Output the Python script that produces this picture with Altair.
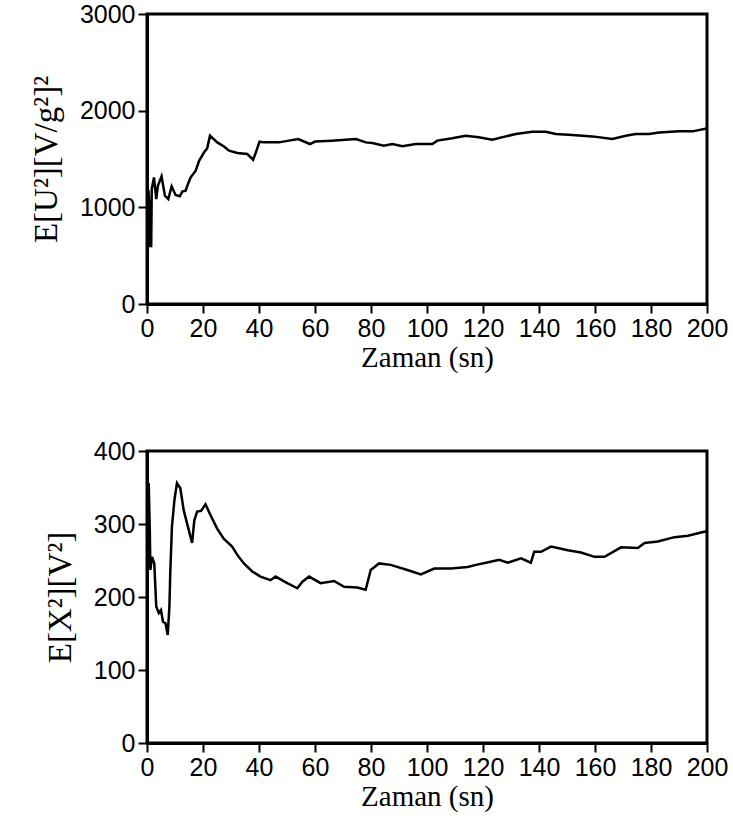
import altair as alt
import pandas as pd

# Top chart: E[U^2] [V/g^2]^2 vs time (s)
t_top = [0.2, 0.5, 0.9, 1.2, 1.5, 1.7, 2.5, 3.3, 3.9, 5.2, 6.4, 7.6, 8.8, 10.2, 11.7,
         12.6, 13.8, 14.4, 15.6, 17.4, 18.6, 20.4, 21.5, 22.5, 25.1, 27.5, 29.3, 32.3,
         35.8, 37.9, 38.8, 40.2, 41.7, 47.1, 50.7, 54.0, 58.2, 60.0, 66.0, 74.6, 78.2,
         80.5, 84.6, 87.6, 91.2, 96.0, 101.9, 103.7, 109.0, 113.8, 118.5, 123.3, 128.1,
         131.7, 137.6, 142.4, 146.0, 151.9, 159.0, 166.2, 171.0, 174.5, 179.3, 182.9,
         190.0, 194.8, 199.0, 200.0]
v_top = [300, 1180, 1000, 600, 600, 1190, 1310, 1086, 1224, 1320, 1120, 1086, 1217, 1127,
         1114, 1162, 1172, 1224, 1310, 1379, 1482, 1569, 1610, 1741, 1672, 1630, 1586,
         1562, 1551, 1493, 1562, 1679, 1672, 1672, 1690, 1706, 1655, 1680, 1690, 1706,
         1672, 1665, 1638, 1655, 1631, 1655, 1655, 1690, 1714, 1741, 1724, 1699, 1734,
         1758, 1782, 1782, 1758, 1748, 1734, 1706, 1741, 1758, 1758, 1775, 1786, 1786,
         1810, 1815]

# Bottom chart: E[X^2] [V^2] vs time (s)
t_bot = [0.2, 0.6, 1.0, 1.2, 1.8, 2.6, 3.3, 4.2, 5.0, 5.7, 6.6, 7.4, 8.0, 8.3, 8.9, 9.8,
         10.7, 11.9, 13.1, 14.9, 16.1, 16.9, 17.9, 19.3, 20.9, 22.7, 25.0, 27.4, 30.4,
         32.2, 34.6, 37.6, 40.5, 44.1, 45.9, 50.1, 53.7, 55.5, 57.9, 62.0, 66.8, 70.4,
         75.1, 78.1, 79.9, 82.9, 87.0, 93.0, 97.8, 102.6, 108.5, 114.5, 117.5, 122.3,
         125.8, 128.8, 133.6, 137.1, 138.3, 140.7, 144.3, 150.3, 155.0, 159.8, 163.4,
         169.3, 175.3, 177.7, 182.4, 188.4, 193.2, 198.6, 200.0]
v_bot = [290, 356, 292, 237, 255, 246, 187, 178, 182, 166, 164, 148, 187, 232, 296, 333,
         356, 349, 319, 292, 274, 305, 317, 318, 327, 312, 294, 280, 269, 258, 246, 235,
         228, 223, 228, 219, 212, 221, 228, 219, 222, 214, 213, 210, 237, 246, 244, 237,
         231, 239, 239, 241, 244, 248, 251, 247, 253, 247, 262, 262, 269, 264, 261, 255,
         255, 268, 267, 274, 276, 282, 284, 289, 290]

x_ticks = [0, 20, 40, 60, 80, 100, 120, 140, 160, 180, 200]
top_ticks = [0, 1000, 2000, 3000]
bot_ticks = [0, 100, 200, 300, 400]

x_title = "Zaman (sn)"
top_title = "E[U²][V/g²]²"
bot_title = "E[X²][V²]"

df_top = pd.DataFrame({"t": t_top, "v": v_top})
df_bot = pd.DataFrame({"t": t_bot, "v": v_bot})

LABEL_FONT = "Liberation Sans"
TITLE_FONT = "Liberation Serif"


def panel(df, yticks, ymax, ytitle, h):
    return alt.Chart(df).mark_line(color="black", strokeWidth=2.5).encode(
        x=alt.X("t:Q", scale=alt.Scale(domain=[0, 200], nice=False),
                axis=alt.Axis(values=x_ticks, title=x_title, format="d",
                              labelOverlap=False, labelFlush=False, titlePadding=2)),
        y=alt.Y("v:Q", scale=alt.Scale(domain=[0, ymax], nice=False),
                axis=alt.Axis(values=yticks, title=ytitle, format="d",
                              labelOverlap=False, labelFlush=False, titlePadding=16,
                              titleFontSize=33)),
    ).properties(width=560, height=h)


top = panel(df_top, top_ticks, 3000, top_title, 290)
bot = panel(df_bot, bot_ticks, 400, bot_title, 292)

chart = alt.vconcat(top, bot, spacing=63).properties(
    padding={"left": 28, "top": 0, "right": 0, "bottom": 0},
    background="white",
).configure_view(
    stroke="black", strokeWidth=3
).configure_axis(
    grid=False,
    domainColor="black", domainWidth=3,
    tickColor="black", tickWidth=2, tickSize=9,
    labelFont=LABEL_FONT, labelFontSize=25, labelColor="black", labelPadding=3,
    titleFont=TITLE_FONT, titleFontSize=29, titleFontWeight="normal", titleColor="black",
)

chart.save("out.html", embed_options={"renderer": "svg", "actions": False})
